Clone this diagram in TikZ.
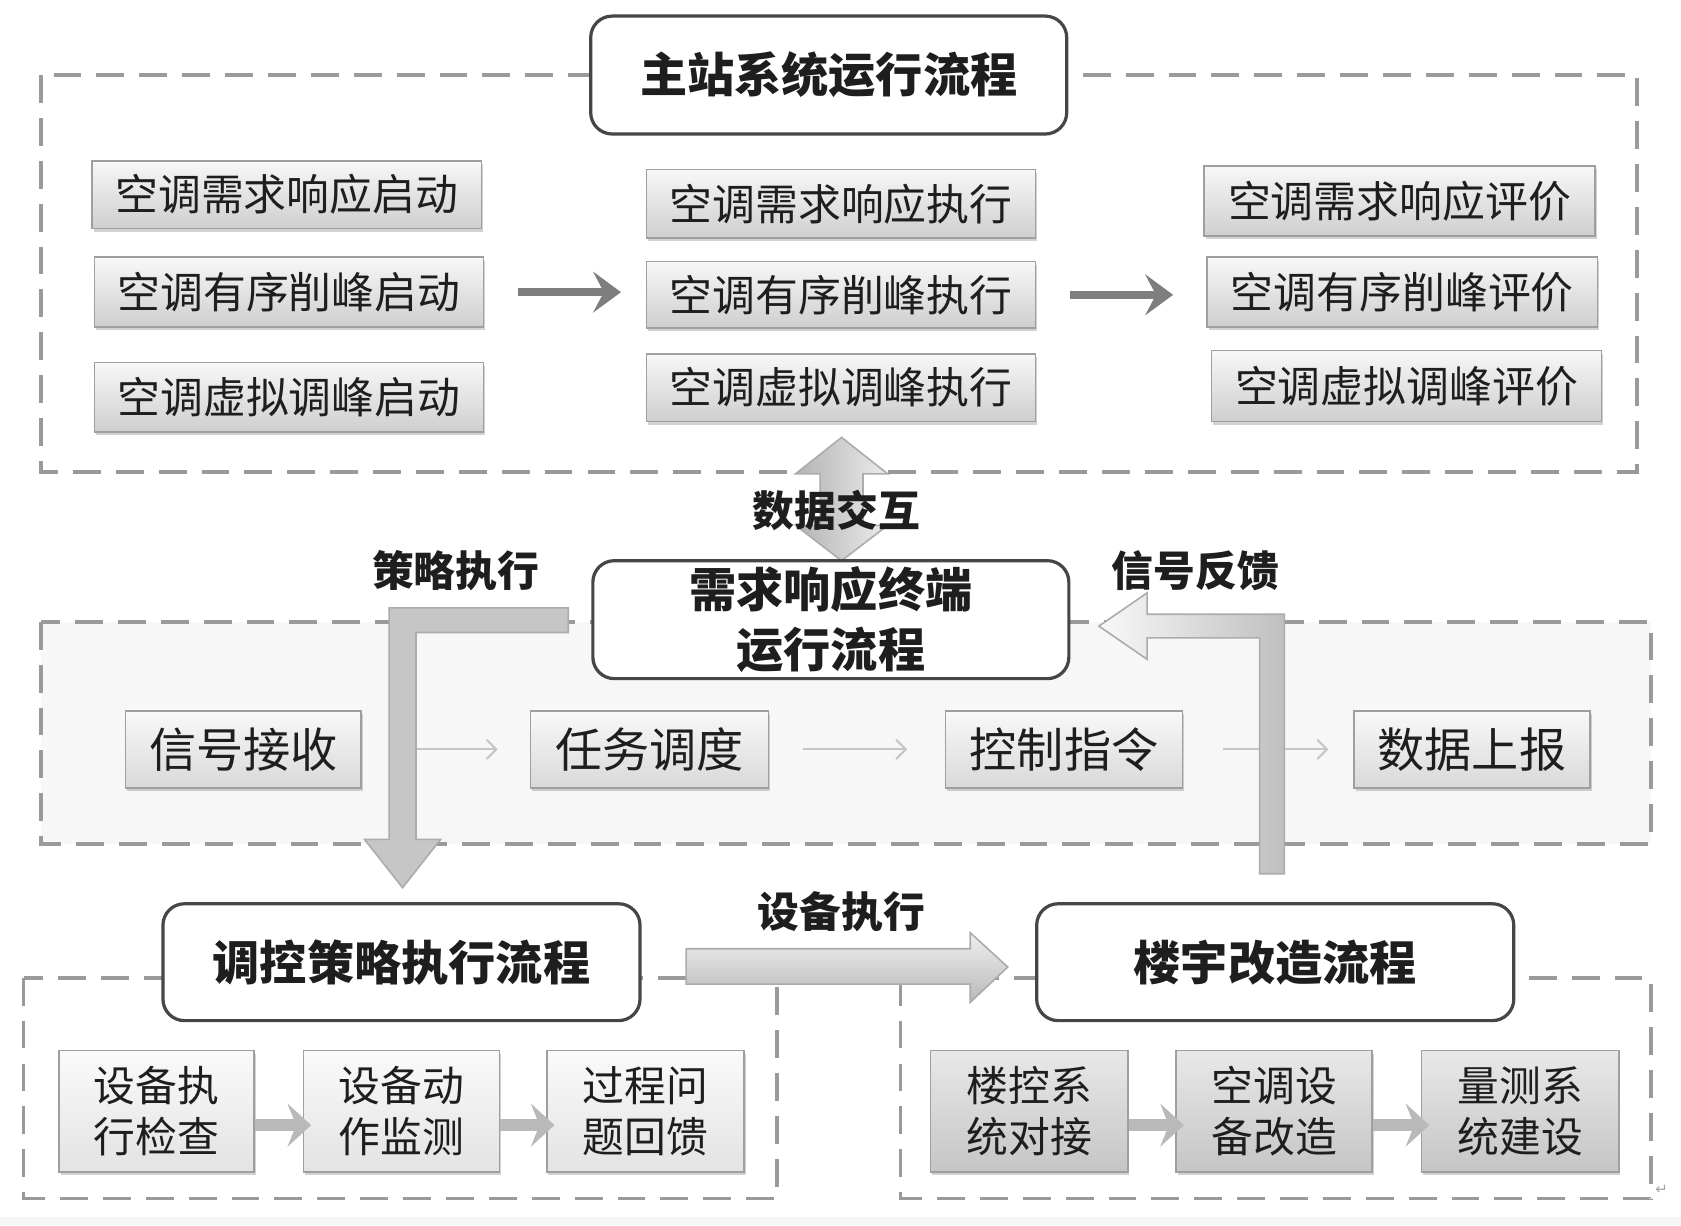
\documentclass[tikz,border=0pt]{standalone}
\usepackage{fontspec}
\setmainfont{Noto Sans CJK SC}
\newfontfamily\symfont{DejaVu Sans}
\usetikzlibrary{arrows.meta,shadows,calc}
\definecolor{txt}{HTML}{1E1E1E}
\definecolor{dashc}{HTML}{9A9A9A}
\definecolor{arrc}{HTML}{7E7E7E}
\begin{document}
\begin{tikzpicture}[x=1pt,y=-1pt,
  frame/.style={draw=dashc,line width=3.5pt,dash pattern=on 26pt off 14pt},
  gbox/.style={draw=gray!75,line width=1.5pt,top color=gray!6,bottom color=gray!38,
     text=txt,inner sep=0pt,font=\fontsize{40}{46}\selectfont,
     drop shadow={opacity=0.35,shadow xshift=1.5pt,shadow yshift=-3pt}},
  mbox/.style={gbox,top color=gray!5,bottom color=gray!30,font=\fontsize{44}{50}\selectfont},
  lbox/.style={gbox,top color=gray!4,bottom color=gray!22,align=center,font=\fontsize{39}{48}\selectfont},
  rbox/.style={gbox,top color=gray!18,bottom color=gray!45,align=center,font=\fontsize{39}{48}\selectfont},
  ttl/.style={draw=gray!55!black,line width=3pt,rounded corners=20pt,fill=white,text=txt,
     align=center,font=\bfseries\fontsize{44}{56}\selectfont,inner sep=0pt},
  lbl/.style={text=txt,font=\bfseries\fontsize{39}{42}\selectfont,inner sep=0pt},
  fatarrow/.style={draw=arrc,line width=8pt,-{Stealth[length=26pt,width=38pt,inset=10pt]}},
  thinarrow/.style={draw=gray!45,line width=2pt,-{Straight Barb[length=9pt,width=18pt]}},
  midarrow/.style={draw=gray!55,line width=11pt,-{Stealth[length=22pt,width=40pt,inset=8pt]}},
  blockarrow/.style={draw=gray!65,line width=1.5pt}
]
\useasboundingbox (0,0) rectangle (1568,1143);
\fill[white] (0,0) rectangle (1568,1143);
\fill[gray!8] (0,1135) rectangle (1568,1143);

% ---------- top section ----------
\draw[frame] (38,70) rectangle (1527,440);
\node[gbox,minimum width=363pt,minimum height=63pt] (a1) at (267.5,181.5) {空调需求响应启动};
\node[gbox,minimum width=363pt,minimum height=65pt] (a2) at (269.5,272.5) {空调有序削峰启动};
\node[gbox,minimum width=363pt,minimum height=65pt] (a3) at (269.5,370.5) {空调虚拟调峰启动};
\node[gbox,minimum width=363pt,minimum height=64pt] (b1) at (784.5,190) {空调需求响应执行};
\node[gbox,minimum width=363pt,minimum height=62pt] (b2) at (784.5,275) {空调有序削峰执行};
\node[gbox,minimum width=363pt,minimum height=63pt] (b3) at (784.5,361.5) {空调虚拟调峰执行};
\node[gbox,minimum width=365pt,minimum height=65pt] (c1) at (1305.5,187.5) {空调需求响应评价};
\node[gbox,minimum width=364pt,minimum height=65pt] (c2) at (1308,272.5) {空调有序削峰评价};
\node[gbox,minimum width=364pt,minimum height=66pt] (c3) at (1312,360) {空调虚拟调峰评价};
\draw[fatarrow,shorten <=31pt,shorten >=23pt] (a2.east) -- (a2.east -| b2.west);
\draw[fatarrow,shorten <=31pt,shorten >=31pt] (b2.east) -- (b2.east -| c2.west);
\node[ttl,minimum width=444pt,minimum height=110pt] (t1) at (773,70) {主站系统运行流程};

% ---------- middle section ----------
\draw[frame,fill=gray!6] (38,580) rectangle (1540,787);
\node[mbox,minimum width=220pt,minimum height=72pt] (m1) at (227,699) {信号接收};
\node[mbox,minimum width=222pt,minimum height=72pt] (m2) at (606,699) {任务调度};
\node[mbox,minimum width=221pt,minimum height=72pt] (m3) at (992.5,699) {控制指令};
\node[mbox,minimum width=220pt,minimum height=72pt] (m4) at (1373,699) {数据上报};
\draw[thinarrow,shorten <=28pt,shorten >=30pt] (m1.east) -- (m2.west);
\draw[thinarrow,shorten <=31pt,shorten >=35pt] (m2.east) -- (m3.west);
\draw[thinarrow,shorten <=37pt,shorten >=23pt] (m3.east) -- (m4.west);

% data exchange double arrow
\filldraw[blockarrow,left color=gray!60,right color=gray!15]
  (785,408) -- (742,442) -- (765,442) -- (765,490) -- (742,490) -- (785,523)
  -- (828,490) -- (805,490) -- (805,442) -- (828,442) -- cycle;
\node[ttl,minimum width=444pt,minimum height=110pt] (t2) at (775,578) {需求响应终端\\运行流程};
\node[lbl] (lx) at (780,476) {数据交互};

% strategy execution L arrow
\filldraw[blockarrow,fill=gray!45]
  (530,567) -- (363,567) -- (363,783) -- (340,783) -- (375.5,828) -- (411,783)
  -- (388,783) -- (388,590) -- (530,590) -- cycle;
\node[lbl] (ls) at (425,532) {策略执行};

% signal feedback L arrow
\filldraw[blockarrow,left color=gray!5,right color=gray!50]
  (1175,815) -- (1175,595) -- (1070,595) -- (1070,615) -- (1025,584) -- (1070,553)
  -- (1070,573) -- (1198,573) -- (1198,815) -- cycle;
\node[lbl] (lf) at (1115,532) {信号反馈};

% ---------- bottom sections ----------
\draw[frame] (22,912) rectangle (725,1118);
\draw[frame] (840,912) rectangle (1540,1118);
\node[lbox,minimum width=182pt,minimum height=113pt] (d1) at (146,1036.5) {设备执\\行检查};
\node[lbox,minimum width=183pt,minimum height=113pt] (d2) at (374.5,1036.5) {设备动\\作监测};
\node[lbox,minimum width=184pt,minimum height=113pt] (d3) at (602,1036.5) {过程问\\题回馈};
\node[rbox,minimum width=184pt,minimum height=113pt] (e1) at (960,1036.5) {楼控系\\统对接};
\node[rbox,minimum width=183pt,minimum height=113pt] (e2) at (1188.5,1036.5) {空调设\\备改造};
\node[rbox,minimum width=184pt,minimum height=113pt] (e3) at (1418,1036.5) {量测系\\统建设};
\draw[midarrow] ($(d1.east)+(0,13)$) -- ($(d2.west)+(8,13)$);
\draw[midarrow] ($(d2.east)+(0,13)$) -- ($(d3.west)+(8,13)$);
\draw[midarrow] ($(e1.east)+(0,13)$) -- ($(e2.west)+(8,13)$);
\draw[midarrow] ($(e2.east)+(0,13)$) -- ($(e3.west)+(8,13)$);
\node[ttl,minimum width=445pt,minimum height=109pt] (t3) at (374.5,897.5) {调控策略执行流程};
\node[ttl,minimum width=445pt,minimum height=109pt] (t4) at (1189.5,897.5) {楼宇改造流程};

% device execution arrow
\filldraw[blockarrow,top color=gray!12,bottom color=gray!55]
  (640,885) -- (905,885) -- (905,870) -- (940,902) -- (905,935) -- (905,918) -- (640,918) -- cycle;
\node[lbl] (ld) at (785,850) {设备执行};

\node[text=gray!70,font=\symfont\fontsize{14}{14}\selectfont,inner sep=0pt] (ret) at (1550,1110) {↵};
\end{tikzpicture}
\end{document}
